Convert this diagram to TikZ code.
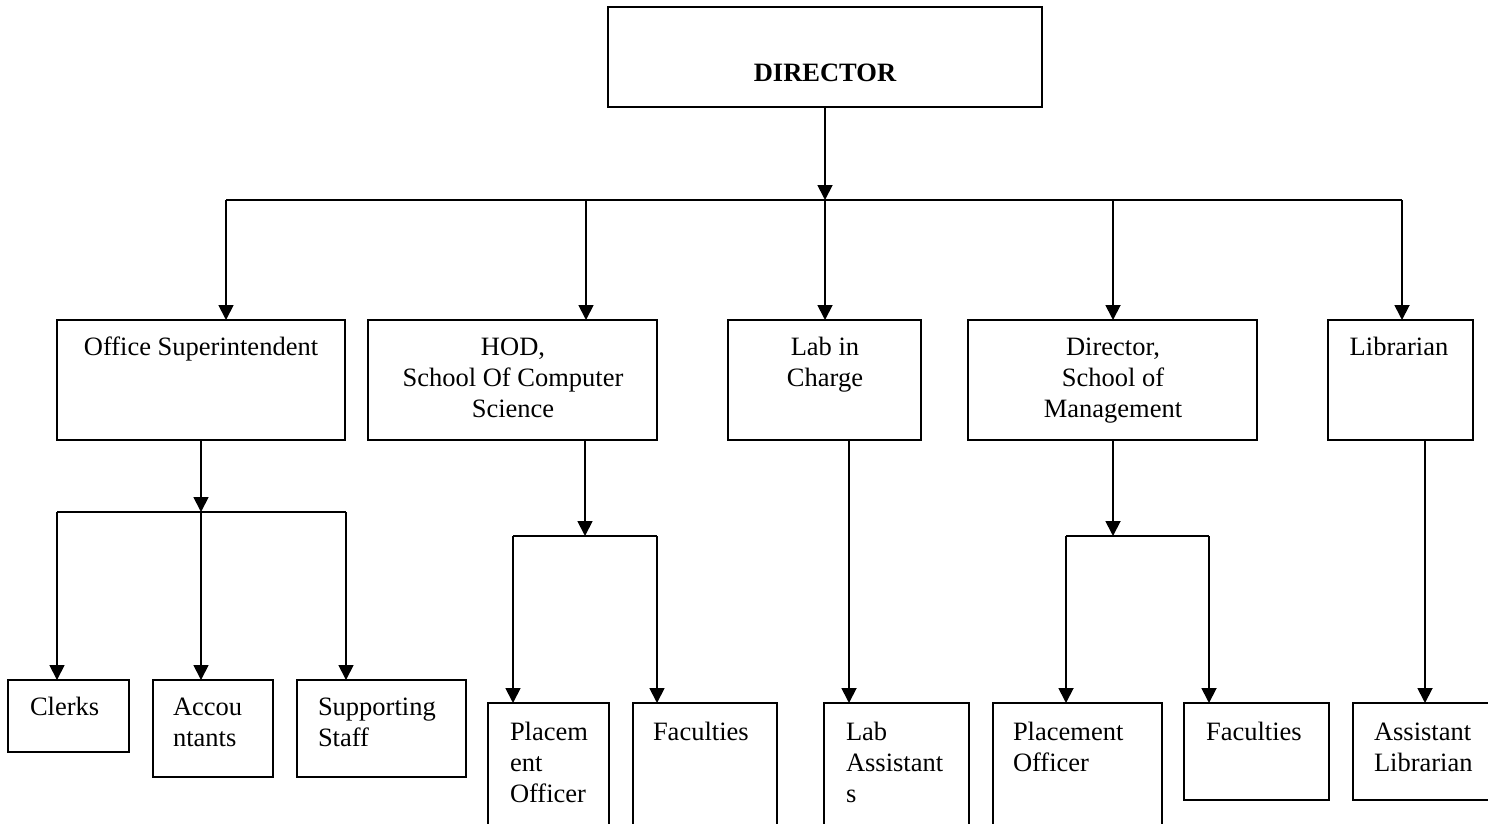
\documentclass[tikz,border=0pt]{standalone}
\usepackage{fontspec}
\setmainfont{Liberation Serif}
\usetikzlibrary{arrows.meta}
\begin{document}
\begin{tikzpicture}[x=1pt,y=-1pt,
  box/.style={draw=black,line width=1.8pt,rectangle,inner sep=0pt,outer sep=0pt,anchor=north west},
  txt/.style={inner sep=0pt,outer sep=0pt,font=\fontsize{26.5}{31}\selectfont},
  conn/.style={draw=black,line width=1.8pt},
  arr/.style={conn,-{Triangle[width=15pt,length=15pt]}}]
\useasboundingbox (0,0) rectangle (1488,823);
\clip (0,0) rectangle (1488,823);
% boxes
\node[box,minimum width=434pt,minimum height=100pt] (dir) at (608,7) {};
\node[box,minimum width=288pt,minimum height=120pt] (os) at (57,320) {};
\node[box,minimum width=289pt,minimum height=120pt] (hod) at (368,320) {};
\node[box,minimum width=193pt,minimum height=120pt] (lic) at (728,320) {};
\node[box,minimum width=289pt,minimum height=120pt] (som) at (968,320) {};
\node[box,minimum width=145pt,minimum height=120pt] (lib) at (1328,320) {};
\node[box,minimum width=121pt,minimum height=72pt] (clk) at (8,680) {};
\node[box,minimum width=120pt,minimum height=97pt] (acc) at (153,680) {};
\node[box,minimum width=169pt,minimum height=97pt] (sup) at (297,680) {};
\node[box,minimum width=121pt,minimum height=150pt] (po1) at (488,703) {};
\node[box,minimum width=144pt,minimum height=150pt] (fac1) at (633,703) {};
\node[box,minimum width=145pt,minimum height=150pt] (la) at (824,703) {};
\node[box,minimum width=169pt,minimum height=150pt] (po2) at (993,703) {};
\node[box,minimum width=145pt,minimum height=97pt] (fac2) at (1184,703) {};
\node[box,minimum width=150pt,minimum height=97pt] (al) at (1353,703) {};
% texts (base anchor = baseline of last line)
\node[txt,anchor=base] (dir-t) at (825,81) {\bfseries DIRECTOR};
\node[txt,anchor=base,align=center] (os-t) at (201,355) {Office Superintendent};
\node[txt,anchor=base,align=center] (hod-t) at (513,417) {HOD,\\School Of Computer\\Science};
\node[txt,anchor=base,align=center] (lic-t) at (825,386) {Lab in\\Charge};
\node[txt,anchor=base,align=center] (som-t) at (1113,417) {Director,\\School of\\Management};
\node[txt,anchor=base,align=center] (lib-t) at (1399,355) {Librarian};
\node[txt,anchor=base west] (clk-t) at (30,715) {Clerks};
\node[txt,anchor=base west,align=left] (acc-t) at (173,746) {Accou\\ntants};
\node[txt,anchor=base west,align=left] (sup-t) at (318,746) {Supporting\\Staff};
\node[txt,anchor=base west,align=left] (po1-t) at (510,802) {Placem\\ent\\Officer};
\node[txt,anchor=base west] (fac1-t) at (653,740) {Faculties};
\node[txt,anchor=base west,align=left] (la-t) at (846,802) {Lab\\Assistant\\s};
\node[txt,anchor=base west,align=left] (po2-t) at (1013,771) {Placement\\Officer};
\node[txt,anchor=base west] (fac2-t) at (1206,740) {Faculties};
\node[txt,anchor=base west,align=left] (al-t) at (1374,771) {Assistant\\Librarian};
% bus coordinates
\coordinate (b0) at (825,200);
\coordinate (b1) at (226,200);
\coordinate (b2) at (586,200);
\coordinate (b3) at (825,200);
\coordinate (b4) at (1113,200);
\coordinate (b5) at (1402,200);
\coordinate (osj) at (201,512);
\coordinate (osl) at (57,512);
\coordinate (osr) at (346,512);
\coordinate (hodj) at (585,536);
\coordinate (hodl) at (513,536);
\coordinate (hodr) at (657,536);
\coordinate (somj) at (1113,536);
\coordinate (soml) at (1066,536);
\coordinate (somr) at (1209,536);
% connectors
\draw[arr] (dir.south) -- (b0);
\draw[conn] (b1) -- (b5);
\draw[arr] (b1) -- (b1 |- os.north);
\draw[arr] (b2) -- (b2 |- hod.north);
\draw[arr] (b3) -- (b3 |- lic.north);
\draw[arr] (b4) -- (b4 |- som.north);
\draw[arr] (b5) -- (b5 |- lib.north);
\draw[arr] (osj |- os.south) -- (osj);
\draw[conn] (osl) -- (osr);
\draw[arr] (osl) -- (osl |- clk.north);
\draw[arr] (osj) -- (osj |- acc.north);
\draw[arr] (osr) -- (osr |- sup.north);
\draw[arr] (hodj |- hod.south) -- (hodj);
\draw[conn] (hodl) -- (hodr);
\draw[arr] (hodl) -- (hodl |- po1.north);
\draw[arr] (hodr) -- (hodr |- fac1.north);
\coordinate (licj) at (849,440);
\draw[arr] (licj |- lic.south) -- (licj |- la.north);
\draw[arr] (somj |- som.south) -- (somj);
\draw[conn] (soml) -- (somr);
\draw[arr] (soml) -- (soml |- po2.north);
\draw[arr] (somr) -- (somr |- fac2.north);
\coordinate (libj) at (1425,440);
\draw[arr] (libj |- lib.south) -- (libj |- al.north);
\end{tikzpicture}
\end{document}
